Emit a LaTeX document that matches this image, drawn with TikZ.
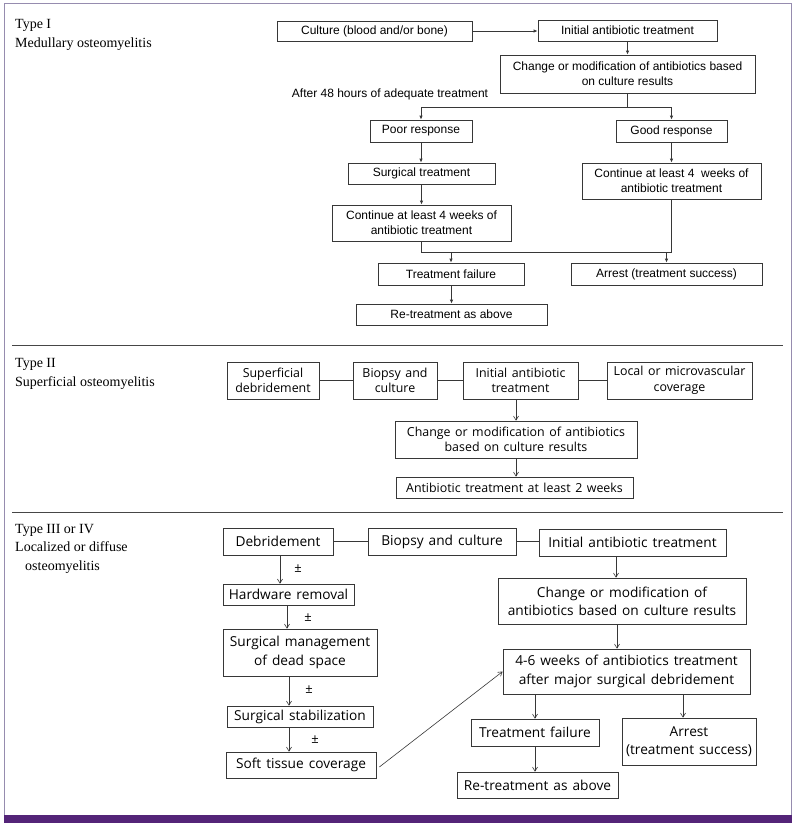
\documentclass[tikz,border=0pt]{standalone}
\usepackage{fontspec}
\setmainfont{Liberation Serif}
\newfontfamily\arialf{Liberation Sans}
\newfontfamily\malgf[WordSpace=1.4]{Open Sans}
\usetikzlibrary{arrows.meta,calc}
\definecolor{framecol}{RGB}{150,140,175}
\definecolor{barcol}{RGB}{84,36,120}
\definecolor{linecol}{RGB}{55,55,55}
\definecolor{sepcol}{RGB}{70,70,70}
\newcommand\mybox[7]{\node[#1, minimum width={#4pt-#3pt}, minimum height={#6pt-#5pt}] (#2) at ({(#3+#4)/2},{(#5+#6)/2}) {#7};}
\tikzset{
  lbl/.style={anchor=base west, inner sep=0, font=\fontsize{14}{16}\selectfont},
  bxa/.style={draw=linecol, line width=0.8pt, inner sep=0, align=center, text=black, font=\arialf\fontsize{12}{14.8}\selectfont},
  bxb/.style={draw=linecol, line width=0.7pt, inner sep=0, align=center, text=black, font=\malgf\fontsize{12.4}{15.6}\selectfont},
  bxc/.style={draw=linecol, line width=0.7pt, inner sep=0, align=center, text=black, font=\malgf\fontsize{13.7}{18.3}\selectfont},
  cona/.style={draw=linecol, line width=0.8pt},
  arra/.style={cona, -{Latex[length=4pt,width=3.5pt]}},
  conb/.style={draw=linecol, line width=0.6pt},
  arrb/.style={conb, -{Straight Barb[length=4pt,width=5pt]}},
  pm/.style={inner sep=0, font=\malgf\fontsize{13}{15}\selectfont}
}
\begin{document}
\begin{tikzpicture}[x=1pt,y=-1pt]
\useasboundingbox (0,0) rectangle (796,825);
% frame
\fill[white] (0,0) rectangle (796,825);
\draw[framecol, line width=1pt] (4,815) -- (4,3) -- (791,3) -- (791,815);
\fill[barcol] (3.5,815) rectangle (791.5,823);
\draw[sepcol, line width=0.8pt] (12,345) -- (783,345);
\draw[sepcol, line width=0.8pt] (12,512) -- (783,512);

% ---------- Type I ----------
\node[lbl] (t1a) at (15,28) {Type I};
\node[lbl] (t1b) at (15,47) {Medullary osteomyelitis};

\mybox{bxa}{cult}{277}{472}{21}{41}{Culture (blood and/or bone)}
\mybox{bxa}{init1}{538}{717}{20}{41}{Initial antibiotic treatment}
\mybox{bxa}{chg1}{500}{755}{55}{93}{Change or modification of antibiotics based\\on culture results}
\node[inner sep=0, font=\arialf\fontsize{12}{14}\selectfont] (after) at (390,94) {After 48 hours of adequate treatment};
\mybox{bxa}{poor}{370}{472}{120}{142}{Poor response}
\mybox{bxa}{good}{616}{727}{120}{142}{Good response}
\mybox{bxa}{surg}{348}{495}{163}{184}{Surgical treatment}
\mybox{bxa}{contR}{582}{761}{163}{199}{Continue at least 4\ \ weeks of\\antibiotic treatment}
\mybox{bxa}{contL}{332}{511}{205}{241}{Continue at least 4 weeks of\\antibiotic treatment}
\mybox{bxa}{tf1}{378}{524}{263}{285}{Treatment failure}
\mybox{bxa}{arr1}{571}{762}{263}{285}{Arrest (treatment success)}
\mybox{bxa}{re1}{356}{547}{304}{325}{Re-treatment as above}

\draw[arra] (cult.east) -- (cult.east -| init1.west);
\draw[arra] (init1) -- (chg1);
\coordinate (br) at (627.5,107);
\draw[cona] (chg1.south) -- (br);
\draw[arra] (br) -| (poor.north);
\draw[arra] (br) -| (good.north);
\draw[arra] (poor) -- (poor |- surg.north);
\draw[arra] (good) -- (good |- contR.north);
\draw[arra] (surg.south -| contL.north) -- (contL.north);
\coordinate (jl) at (421.5,252);
\coordinate (jr) at (671.5,252);
\draw[cona] (contL.south) -- (jl) -- (jr) -- (contR.south);
\draw[arra] (tf1.north |- jl) -- (tf1.north);
\draw[arra] (arr1.north |- jr) -- (arr1.north);
\draw[arra] (tf1.south -| re1.north) -- (re1.north);

% ---------- Type II ----------
\node[lbl] (t2a) at (15,367) {Type II};
\node[lbl] (t2b) at (15,386) {Superficial osteomyelitis};

\mybox{bxb}{sd}{227}{319}{362}{399}{Superficial\\debridement}
\mybox{bxb}{bc}{353}{437}{362}{399}{Biopsy and\\culture}
\mybox{bxb}{ia2}{463}{578}{362}{399}{Initial antibiotic\\treatment}
\mybox{bxb}{lc}{607}{752}{362}{399}{Local or microvascular\\coverage}
\mybox{bxb}{chg2}{395}{637}{421}{458}{Change or modification of antibiotics\\based on culture results}
\mybox{bxb}{ab2}{396}{633}{477}{498}{Antibiotic treatment at least 2 weeks}

\draw[conb] (sd.east) -- (bc.west);
\draw[conb] (bc.east) -- (ia2.west);
\draw[conb] (ia2.east) -- (lc.west);
\draw[arrb] (ia2.south -| chg2.north) -- (chg2.north);
\draw[arrb] (chg2.south) -- (chg2.south |- ab2.north);

% ---------- Type III / IV ----------
\node[lbl] (t3a) at (15,533) {Type III or IV};
\node[lbl] (t3b) at (15,551) {Localized or diffuse};
\node[lbl] (t3c) at (25,570) {osteomyelitis};

\mybox{bxc}{deb}{223}{333}{528}{555}{Debridement}
\mybox{bxc}{bc3}{368}{516}{528}{555}{Biopsy and culture}
\mybox{bxc}{ia3}{539}{726}{529}{556}{Initial antibiotic treatment}
\mybox{bxc}{chg3}{498}{746}{578}{624}{Change or modification of\\antibiotics based on culture results}
\mybox{bxc}{w46}{503}{750}{649}{694}{4-6 weeks of antibiotics treatment\\after major surgical debridement}
\mybox{bxc}{tf3}{471}{599}{719}{746}{Treatment failure}
\mybox{bxc}{ar3}{622}{756}{718}{765}{Arrest\\(treatment success)}
\mybox{bxc}{re3}{457}{618}{772}{798}{Re-treatment as above}
\mybox{bxc}{hw}{223}{354}{584}{605}{Hardware removal}
\mybox{bxc}{sm}{223}{377}{629}{676}{Surgical management\\of dead space}
\mybox{bxc}{ss}{227}{373}{706}{727}{Surgical stabilization}
\mybox{bxc}{st}{226}{376}{752}{778}{Soft tissue coverage}

\draw[conb] (deb.east) -- (bc3.west);
\draw[conb] (bc3.east) -- (bc3.east -| ia3.west);
\draw[arrb] ([xshift=-16.5pt]ia3.south) -- ([xshift=-16.5pt]ia3.south |- chg3.north);
\draw[arrb] ([xshift=-5pt]chg3.south) -- ([xshift=-5pt]chg3.south |- w46.north);
\draw[arrb] (w46.south -| tf3.north) -- (tf3.north);
\draw[arrb] ([xshift=-6pt]ar3.north |- w46.south) -- ([xshift=-6pt]ar3.north);
\draw[arrb] (tf3.south) -- (tf3.south |- re3.north);

\draw[arrb] ([xshift=2pt]deb.south) -- ([xshift=2pt]deb.south |- hw.north);
\draw[arrb] ([xshift=-1.5pt]hw.south) -- ([xshift=-1.5pt]hw.south |- sm.north);
\draw[arrb] ([xshift=-11pt]sm.south) -- ([xshift=-11pt]sm.south |- ss.north);
\draw[arrb] ([xshift=-11pt]ss.south) -- ([xshift=-11pt]ss.south |- st.north);
\node[pm] (pm1) at (298,569) {±};
\node[pm] (pm2) at (308,618) {±};
\node[pm] (pm3) at (309,690) {±};
\node[pm] (pm4) at (315,740) {±};

\draw[arrb] ([xshift=3pt,yshift=-2pt]st.east) -- (w46.west);
\end{tikzpicture}
\end{document}
